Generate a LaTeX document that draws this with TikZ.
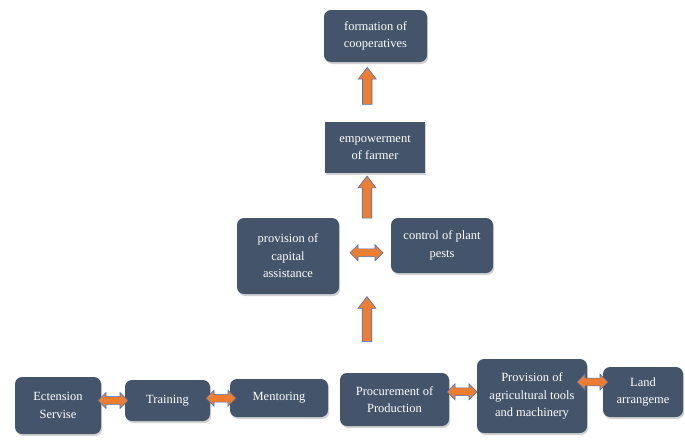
\documentclass[tikz,border=0pt]{standalone}
\usepackage{fontspec}
\setmainfont{Liberation Serif}
\usetikzlibrary{shapes.arrows,shadows,calc}
\definecolor{boxfill}{HTML}{44546A}
\definecolor{arrfill}{HTML}{ED7D31}
\definecolor{arrline}{HTML}{4472C4}
\begin{document}
\begin{tikzpicture}[x=1pt,y=-1pt,
  box/.style={fill=boxfill, text=white, align=center, inner sep=2pt,
    font=\fontsize{12.5}{17.5}\selectfont,
    drop shadow={opacity=0.35, shadow xshift=1.2pt, shadow yshift=-2pt}},
  rbox/.style={box, rounded corners=7pt},
  uparrow/.style={single arrow, shape border rotate=90, fill=arrfill, draw=arrline,
    line width=0.6pt, inner sep=4.2pt, minimum width=18pt,
    single arrow head extend=4pt, single arrow tip angle=75},
  dblarrow/.style={double arrow, fill=arrfill, draw=arrline, line width=0.6pt,
    inner sep=0pt, inner ysep=3.4pt, minimum width=16pt,
    double arrow head extend=4pt, double arrow tip angle=90}]
\useasboundingbox[fill=white] (0,0) rectangle (685,439);

\node[rbox, minimum width=103pt, minimum height=52pt] (form) at (375.5,36) {formation of\\cooperatives};
\node[box, minimum width=100pt, minimum height=51pt] (emp) at (375,147.5) {empowerment\\of farmer};
\node[rbox, minimum width=102pt, minimum height=76pt] (cap) at (288,256) {provision of\\capital\\assistance};
\node[rbox, minimum width=102pt, minimum height=55pt] (pest) at (442,245.5) {control of plant\\pests};

\node[rbox, minimum width=86pt, minimum height=57pt] (ect) at (58,405.5) {Ectension\\Servise};
\node[rbox, minimum width=85pt, minimum height=41pt] (train) at (167.5,400.5) {Training};
\node[rbox, minimum width=98pt, minimum height=38pt] (ment) at (279,398) {Mentoring};
\node[rbox, minimum width=109pt, minimum height=53pt] (proc) at (394.5,399.5) {Procurement of\\Production};
\node[rbox, minimum width=110pt, minimum height=74pt] (prov) at (532,396) {Provision of\\agricultural tools\\and machinery};
\node[rbox, minimum width=80pt, minimum height=50pt] (land) at (643,392) {Land\\arrangeme};

% vertical block arrows
\node[uparrow, minimum height=37pt] (a1) at ($(emp.north)!0.5!(form.south)+(-8,-3)$) {};
\node[uparrow, minimum height=42pt] (a2) at ($(emp.south)+(-8,27)$) {};
\node[uparrow, minimum height=45pt] (a3) at ($(emp.south)+(-8,149)$) {};

% horizontal double arrows
\node[dblarrow, minimum height=33pt] (d1) at ($(cap.east)!0.5!(pest.west)+(1.5,2)$) {};
\node[dblarrow, minimum height=30pt] (d2) at ($(ect.east)!0.5!(train.west)+(0,-2.5)$) {};
\node[dblarrow, minimum height=30pt] (d3) at ($(train.east)!0.5!(ment.west)+(1,-1)$) {};
\node[dblarrow, minimum height=30pt] (d4) at ($(proc.east)!0.5!(prov.west)+(-1,-6)$) {};
\node[dblarrow, minimum height=31pt] (d5) at ($(prov.east)!0.5!(land.west)+(-2.5,-12)$) {};
\end{tikzpicture}
\end{document}
